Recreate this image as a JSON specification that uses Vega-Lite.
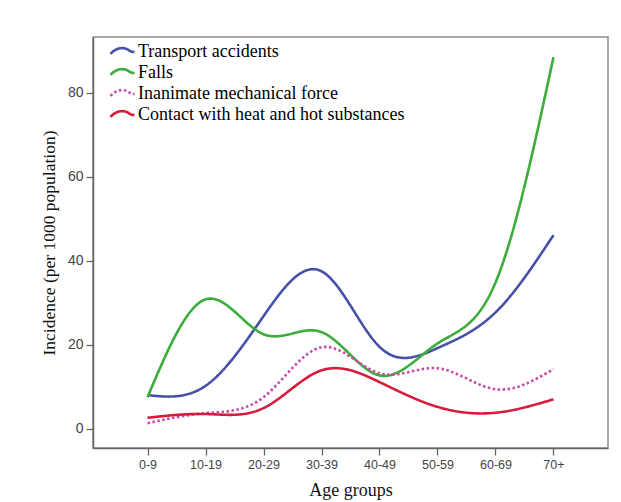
{
  "$schema": "https://vega.github.io/schema/vega-lite/v6.json",
  "width": 515,
  "height": 411,
  "autosize": "none",
  "padding": {"left": 93, "top": 37, "right": 13, "bottom": 54},
  "background": "white",
  "config": {
    "view": {"stroke": "#8c8c8c", "strokeWidth": 1.5},
    "font": "Liberation Serif"
  },
  "data": {
    "values": [
      {"age": "0-9", "type": "Transport accidents", "value": 8.0},
      {"age": "10-19", "type": "Transport accidents", "value": 10.2},
      {"age": "20-29", "type": "Transport accidents", "value": 26.8},
      {"age": "30-39", "type": "Transport accidents", "value": 37.5},
      {"age": "40-49", "type": "Transport accidents", "value": 19.5},
      {"age": "50-59", "type": "Transport accidents", "value": 19.2},
      {"age": "60-69", "type": "Transport accidents", "value": 27.7},
      {"age": "70+", "type": "Transport accidents", "value": 46.1},
      {"age": "0-9", "type": "Falls", "value": 7.5},
      {"age": "10-19", "type": "Falls", "value": 30.8},
      {"age": "20-29", "type": "Falls", "value": 22.5},
      {"age": "30-39", "type": "Falls", "value": 23.0},
      {"age": "40-49", "type": "Falls", "value": 12.7},
      {"age": "50-59", "type": "Falls", "value": 20.3},
      {"age": "60-69", "type": "Falls", "value": 34.8},
      {"age": "70+", "type": "Falls", "value": 88.5},
      {"age": "0-9", "type": "Inanimate mechanical force", "value": 1.3},
      {"age": "10-19", "type": "Inanimate mechanical force", "value": 3.7},
      {"age": "20-29", "type": "Inanimate mechanical force", "value": 7.5},
      {"age": "30-39", "type": "Inanimate mechanical force", "value": 19.4},
      {"age": "40-49", "type": "Inanimate mechanical force", "value": 13.2},
      {"age": "50-59", "type": "Inanimate mechanical force", "value": 14.4},
      {"age": "60-69", "type": "Inanimate mechanical force", "value": 9.4},
      {"age": "70+", "type": "Inanimate mechanical force", "value": 14.2},
      {"age": "0-9", "type": "Contact with heat and hot substances", "value": 2.6},
      {"age": "10-19", "type": "Contact with heat and hot substances", "value": 3.5},
      {"age": "20-29", "type": "Contact with heat and hot substances", "value": 4.9},
      {"age": "30-39", "type": "Contact with heat and hot substances", "value": 13.9},
      {"age": "40-49", "type": "Contact with heat and hot substances", "value": 11.1},
      {"age": "50-59", "type": "Contact with heat and hot substances", "value": 5.2},
      {"age": "60-69", "type": "Contact with heat and hot substances", "value": 3.8},
      {"age": "70+", "type": "Contact with heat and hot substances", "value": 7.0}
    ]
  },
  "mark": {"type": "line", "interpolate": "natural", "strokeWidth": 2.6},
  "encoding": {
    "x": {
      "field": "age",
      "type": "ordinal",
      "sort": null,
      "scale": {"type": "point", "padding": 0.94},
      "axis": {
        "title": "Age groups",
        "titleFont": "Liberation Serif",
        "titleFontSize": 18,
        "titleFontWeight": "normal",
        "titleColor": "#111",
        "titlePadding": 11,
        "labelFont": "Liberation Sans",
        "labelFontSize": 12.5,
        "labelColor": "#444",
        "labelAngle": 0,
        "labelPadding": 3,
        "tickSize": 7,
        "tickColor": "#666",
        "domainColor": "#666",
        "domainWidth": 1.5,
        "tickWidth": 1.3,
        "grid": false
      }
    },
    "y": {
      "field": "value",
      "type": "quantitative",
      "scale": {"domain": [-4.6, 93.3], "nice": false, "zero": false},
      "axis": {
        "values": [0, 20, 40, 60, 80],
        "title": "Incidence (per 1000 population)",
        "titleFont": "Liberation Serif",
        "titleFontSize": 17.5,
        "titleFontWeight": "normal",
        "titleColor": "#111",
        "titlePadding": 9,
        "labelFont": "Liberation Sans",
        "labelFontSize": 14,
        "labelColor": "#444",
        "labelPadding": 3,
        "tickSize": 7,
        "tickColor": "#666",
        "domainColor": "#666",
        "domainWidth": 1.5,
        "tickWidth": 1.3,
        "grid": false
      }
    },
    "color": {
      "field": "type",
      "type": "nominal",
      "scale": {
        "domain": ["Transport accidents", "Falls", "Inanimate mechanical force", "Contact with heat and hot substances"],
        "range": ["#4650a8", "#3cac3a", "#c84aa8", "#d81a3c"]
      },
      "legend": {
        "title": null,
        "orient": "none",
        "legendX": 18,
        "legendY": 3,
        "padding": 0,
        "rowPadding": 0,
        "symbolType": "M-1.2,0.25C-0.6,-0.45 0.2,-0.45 0.6,-0.15C0.8,0 1,0.05 1.2,0.05",
        "symbolSize": 400,
        "symbolStrokeWidth": 2.6,
        "symbolFillColor": "transparent",
        "labelFont": "Liberation Serif",
        "labelFontSize": 18,
        "labelColor": "#000",
        "labelOffset": 4,
        "labelLimit": 400
      }
    },
    "strokeDash": {
      "field": "type",
      "type": "nominal",
      "scale": {
        "domain": ["Transport accidents", "Falls", "Inanimate mechanical force", "Contact with heat and hot substances"],
        "range": [[1, 0], [1, 0], [2.5, 2.5], [1, 0]]
      },
      "legend": null
    }
  }
}
